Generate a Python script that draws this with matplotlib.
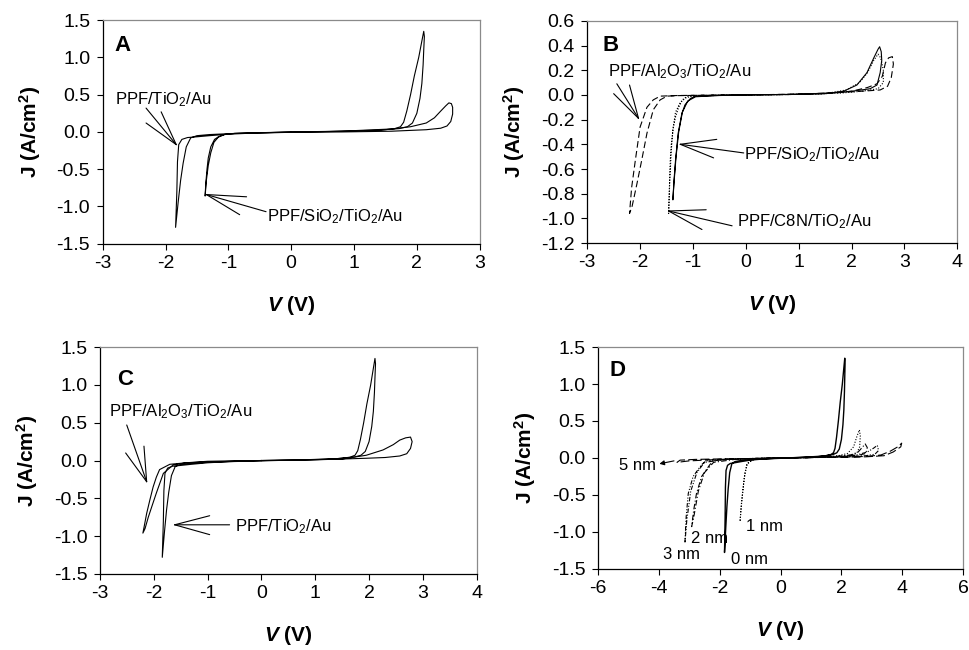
import matplotlib
matplotlib.use('Agg')
import matplotlib.pyplot as plt

plt.rcParams['font.family'] = ['Liberation Sans', 'DejaVu Sans']
plt.rcParams['mathtext.fontset'] = 'custom'
plt.rcParams['mathtext.rm'] = 'Liberation Sans'
plt.rcParams['mathtext.it'] = 'Liberation Sans:italic:bold'
plt.rcParams['mathtext.bf'] = 'Liberation Sans:bold'

# PPF/TiO2/Au (also the 0 nm trace in D)
tio2_v = [0, 0.6, 1.2, 1.5, 1.65, 1.74, 1.79, 1.84, 1.9, 1.96, 2.03, 2.08, 2.11, 2.12, 2.11,
          2.1, 2.08, 2.05, 2.0, 1.93, 1.85, 1.72, 1.4, 0.8, 0.0, -0.6, -1.0, -1.3, -1.5, -1.65,
          -1.74, -1.79, -1.81, -1.82, -1.84, -1.8, -1.76, -1.72, -1.67, -1.6, -1.5, -1.3, -0.9, -0.4, 0.0]
tio2_j = [0, 0.005, 0.015, 0.03, 0.045, 0.07, 0.13, 0.28, 0.5, 0.75, 1.0, 1.22, 1.35, 1.28, 1.1,
          0.9, 0.65, 0.45, 0.25, 0.12, 0.07, 0.045, 0.025, 0.01, -0.005, -0.015, -0.03, -0.05, -0.065, -0.075,
          -0.1, -0.17, -0.4, -0.8, -1.28, -0.95, -0.65, -0.42, -0.2, -0.08, -0.05, -0.035, -0.02, -0.01, 0.0]

# A: PPF/SiO2/TiO2/Au
sio2_a_v = [0, 0.8, 1.6, 1.9, 2.15, 2.28, 2.38, 2.46, 2.51, 2.55, 2.57, 2.57, 2.54, 2.48, 2.38,
            2.15, 1.6, 0.8, 0.0, -0.5, -0.9, -1.05, -1.15, -1.22, -1.28, -1.32, -1.34, -1.36, -1.37, -1.35,
            -1.32, -1.28, -1.23, -1.16, -1.06, -0.9, -0.5, 0.0]
sio2_a_j = [0, 0.01, 0.04, 0.07, 0.12, 0.19, 0.28, 0.35, 0.39, 0.38, 0.33, 0.24, 0.14, 0.08, 0.05,
            0.03, 0.01, 0.0, -0.005, -0.01, -0.02, -0.03, -0.06, -0.1, -0.2, -0.35, -0.5, -0.7, -0.86, -0.65,
            -0.45, -0.28, -0.14, -0.07, -0.035, -0.02, -0.01, 0.0]

# B: three junctions
sio2_b_v = [0, 0.8, 1.5, 1.85, 2.1, 2.29, 2.42, 2.5, 2.53, 2.56, 2.57, 2.54, 2.48, 2.35, 2.1,
            1.8, 1.0, 0.0, -0.5, -0.95, -1.05, -1.15, -1.21, -1.28, -1.33, -1.36, -1.38, -1.36, -1.32, -1.27,
            -1.2, -1.1, -0.95, -0.5, 0.0]
sio2_b_j = [0, 0.003, 0.01, 0.03, 0.08, 0.18, 0.3, 0.37, 0.39, 0.35, 0.28, 0.18, 0.08, 0.05, 0.035,
            0.02, 0.005, 0.0, -0.003, -0.01, -0.03, -0.08, -0.15, -0.31, -0.53, -0.7, -0.85, -0.72, -0.5, -0.3,
            -0.14, -0.05, -0.015, -0.005, 0.0]

c8n_v = [0, 0.8, 1.5, 1.9, 2.15, 2.3, 2.42, 2.5, 2.55, 2.6, 2.6, 2.5, 2.2, 1.8, 1.0,
         0.0, -0.6, -1.0, -1.11, -1.2, -1.27, -1.33, -1.37, -1.41, -1.43, -1.46, -1.44, -1.41, -1.38, -1.33,
         -1.24, -1.12, -0.9, -0.4, 0.0]
c8n_j = [0, 0.003, 0.01, 0.04, 0.1, 0.18, 0.28, 0.33, 0.3, 0.2, 0.1, 0.05, 0.03, 0.015, 0.005,
         0.0, -0.003, -0.008, -0.01, -0.04, -0.1, -0.18, -0.26, -0.4, -0.53, -0.96, -0.7, -0.45, -0.28, -0.14,
         -0.06, -0.02, -0.008, -0.003, 0.0]

al2o3_b_v = [0, 0.8, 1.5, 2.0, 2.3, 2.48, 2.58, 2.64, 2.7, 2.77, 2.79, 2.75, 2.68, 2.54, 2.2,
             1.6, 0.8, 0.0, -0.8, -1.3, -1.49, -1.62, -1.75, -1.87, -1.97, -2.06, -2.15, -2.2, -2.16, -2.09,
             -2.0, -1.87, -1.75, -1.62, -1.3, -0.6, 0.0]
al2o3_b_j = [0, 0.003, 0.01, 0.03, 0.06, 0.09, 0.15, 0.26, 0.3, 0.31, 0.25, 0.14, 0.07, 0.04, 0.03,
             0.015, 0.005, 0.0, -0.003, -0.006, -0.01, -0.04, -0.12, -0.31, -0.53, -0.72, -0.9, -0.96, -0.75, -0.53,
             -0.26, -0.1, -0.04, -0.01, -0.005, -0.002, 0.0]

# C: PPF/Al2O3/TiO2/Au
al2o3_c_v = [0, 0.8, 1.5, 1.95, 2.26, 2.45, 2.57, 2.68, 2.77, 2.8, 2.77, 2.7, 2.57, 2.3, 1.95,
             1.5, 0.8, 0.0, -0.6, -1.0, -1.4, -1.64, -1.82, -1.95, -2.03, -2.1, -2.16, -2.2, -2.17, -2.13,
             -2.07, -2.01, -1.95, -1.89, -1.7, -1.4, -1.0, -0.5, 0.0]
al2o3_c_j = [0, 0.005, 0.02, 0.07, 0.14, 0.21, 0.27, 0.3, 0.31, 0.25, 0.16, 0.09, 0.06, 0.04, 0.03,
             0.02, 0.01, 0.0, -0.005, -0.01, -0.03, -0.06, -0.17, -0.43, -0.6, -0.75, -0.9, -0.96, -0.85, -0.7,
             -0.52, -0.35, -0.22, -0.12, -0.05, -0.03, -0.02, -0.01, 0.0]

# D: SiO2 thickness series
nm1_v = [0, 0.8, 1.5, 1.9, 2.2, 2.4, 2.5, 2.59, 2.62, 2.6, 2.5, 2.2, 1.6, 0.8, 0.0,
         -0.5, -0.8, -1.0, -1.11, -1.2, -1.28, -1.33, -1.3, -1.24, -1.17, -1.08, -0.9, -0.4, 0.0]
nm1_j = [0, 0.005, 0.015, 0.03, 0.06, 0.15, 0.28, 0.38, 0.3, 0.15, 0.06, 0.03, 0.015, 0.005, 0.0,
         -0.005, -0.01, -0.05, -0.09, -0.3, -0.6, -0.86, -0.7, -0.45, -0.2, -0.07, -0.02, -0.005, 0.0]

nm2_v = [0, 1.0, 1.8, 2.3, 2.55, 2.7, 2.78, 2.85, 2.8, 2.5, 1.8, 1.0, 0.0, -1.0, -1.8,
         -2.2, -2.32, -2.59, -2.76, -2.85, -2.92, -2.85, -2.7, -2.5, -2.2, -1.5, -0.5, 0.0]
nm2_j = [0, 0.005, 0.02, 0.04, 0.08, 0.15, 0.19, 0.14, 0.06, 0.03, 0.015, 0.005, 0.0, -0.01, -0.02,
         -0.04, -0.09, -0.25, -0.48, -0.7, -0.93, -0.8, -0.45, -0.2, -0.06, -0.02, -0.005, 0.0]

nm3_v = [0, 1.0, 2.0, 2.5, 2.85, 3.05, 3.18, 3.22, 3.1, 2.8, 2.0, 1.0, 0.0, -1.0, -2.0,
         -2.45, -2.59, -2.87, -3.03, -3.1, -3.14, -3.08, -2.95, -2.75, -2.5, -1.8, -0.8, 0.0]
nm3_j = [0, 0.005, 0.02, 0.04, 0.08, 0.13, 0.17, 0.1, 0.05, 0.03, 0.015, 0.005, 0.0, -0.01, -0.02,
         -0.04, -0.09, -0.25, -0.48, -0.8, -1.15, -0.85, -0.45, -0.2, -0.06, -0.02, -0.005, 0.0]

nm5_v = [0, 1.0, 2.0, 2.8, 3.3, 3.6, 3.85, 3.98, 3.95, 3.7, 3.4, 2.8, 2.0, 1.0, 0.0,
         -1.0, -2.0, -2.5, -3.0, -3.4, -3.3, -2.8, -2.2, -1.2, 0.0]
nm5_j = [0, 0.005, 0.01, 0.02, 0.04, 0.09, 0.15, 0.2, 0.15, 0.08, 0.03, 0.015, 0.01, 0.005, 0.0,
         -0.01, -0.02, -0.03, -0.04, -0.06, -0.03, -0.02, -0.015, -0.01, 0.0]

LW = 0.8
TXT = 12


def style_axes(ax, xlim, xticks, ylim, yticks, letter, lx, ly):
    ax.set_xlim(xlim)
    ax.set_ylim(ylim)
    ax.set_xticks(xticks)
    ax.set_yticks(yticks)
    ax.set_xticklabels([str(t) for t in xticks])
    ax.set_yticklabels(['%.1f' % t for t in yticks])
    ax.tick_params(direction='out', length=4, width=0.8, labelsize=14, pad=5)
    ax.tick_params(axis='x', pad=4)
    for s in ['left', 'bottom']:
        ax.spines[s].set_color('black')
        ax.spines[s].set_linewidth(0.9)
    for s in ['top', 'right']:
        ax.spines[s].set_color('#8a8a8a')
        ax.spines[s].set_linewidth(0.9)
    ax.set_xlabel(r'$V$ (V)', fontsize=15, fontweight='bold', labelpad=16)
    ax.set_ylabel(r'J (A/cm$^{\mathbf{2}}$)', fontsize=15, fontweight='bold', labelpad=10)
    ax.text(lx, ly, letter, transform=ax.transAxes, fontsize=16, fontweight='bold', va='top', ha='left')


def fan(ax, tip, starts):
    for s in starts:
        ax.annotate('', xy=tip, xytext=s,
                    arrowprops=dict(arrowstyle='-', lw=LW, color='black', shrinkA=0, shrinkB=0))


fig = plt.figure(figsize=(9.69, 6.5), dpi=100)
axA = fig.add_axes([0.106, 0.625, 0.389, 0.344])
axB = fig.add_axes([0.606, 0.626, 0.382, 0.342])
axC = fig.add_axes([0.103, 0.117, 0.389, 0.349])
axD = fig.add_axes([0.617, 0.125, 0.377, 0.341])

# A
axA.plot(sio2_a_v, sio2_a_j, color='black', lw=LW)
axA.plot(tio2_v, tio2_j, color='black', lw=LW)
style_axes(axA, (-3, 3), [-3, -2, -1, 0, 1, 2, 3], (-1.5, 1.5),
           [-1.5, -1.0, -0.5, 0.0, 0.5, 1.0, 1.5], 'A', 0.03, 0.935)
axA.text(-2.81, 0.43, 'PPF/TiO$_2$/Au', fontsize=TXT, va='center')
fan(axA, (-1.83, -0.17), [(-2.31, 0.32), (-2.07, 0.27), (-2.31, 0.12)])
axA.text(-0.38, -1.13, 'PPF/SiO$_2$/TiO$_2$/Au', fontsize=TXT, va='center')
fan(axA, (-1.35, -0.84), [(-0.71, -0.87), (-0.82, -1.11), (-0.40, -1.07)])

# B
axB.plot(al2o3_b_v, al2o3_b_j, color='black', lw=LW, linestyle=(0, (6, 3)))
axB.plot(c8n_v, c8n_j, color='black', lw=LW, linestyle=(0, (1, 1.5)))
axB.plot(sio2_b_v, sio2_b_j, color='black', lw=LW)
style_axes(axB, (-3, 4), [-3, -2, -1, 0, 1, 2, 3, 4], (-1.2, 0.6),
           [-1.2, -1.0, -0.8, -0.6, -0.4, -0.2, 0.0, 0.2, 0.4, 0.6], 'B', 0.04, 0.935)
axB.text(-2.6, 0.19, 'PPF/Al$_2$O$_3$/TiO$_2$/Au', fontsize=TXT, va='center')
fan(axB, (-2.03, -0.19), [(-2.5, 0.01), (-2.44, 0.09), (-2.2, 0.08)])
axB.text(-0.04, -0.48, 'PPF/SiO$_2$/TiO$_2$/Au', fontsize=TXT, va='center')
fan(axB, (-1.24, -0.40), [(-0.55, -0.36), (-0.61, -0.51), (-0.04, -0.47)])
axB.text(-0.17, -1.03, 'PPF/C8N/TiO$_2$/Au', fontsize=TXT, va='center')
fan(axB, (-1.46, -0.94), [(-0.75, -0.93), (-0.83, -1.09), (-0.26, -1.06)])

# C
axC.plot(al2o3_c_v, al2o3_c_j, color='black', lw=LW)
axC.plot(tio2_v, tio2_j, color='black', lw=LW)
style_axes(axC, (-3, 4), [-3, -2, -1, 0, 1, 2, 3, 4], (-1.5, 1.5),
           [-1.5, -1.0, -0.5, 0.0, 0.5, 1.0, 1.5], 'C', 0.045, 0.905)
axC.text(-2.83, 0.645, 'PPF/Al$_2$O$_3$/TiO$_2$/Au', fontsize=TXT, va='center')
fan(axC, (-2.13, -0.28), [(-2.5, 0.47), (-2.52, 0.10), (-2.18, 0.19)])
axC.text(-0.49, -0.87, 'PPF/TiO$_2$/Au', fontsize=TXT, va='center')
fan(axC, (-1.61, -0.85), [(-0.96, -0.73), (-0.96, -0.98), (-0.59, -0.85)])

# D
axD.plot(nm5_v, nm5_j, color='black', lw=LW, linestyle=(0, (8, 3)))
axD.plot(nm3_v, nm3_j, color='black', lw=LW, linestyle=(0, (4, 1.5, 1, 1.5, 1, 1.5)))
axD.plot(nm2_v, nm2_j, color='black', lw=LW, linestyle=(0, (5, 2, 1, 2)))
axD.plot(nm1_v, nm1_j, color='black', lw=LW, linestyle=(0, (1, 1.5)))
axD.plot(tio2_v, tio2_j, color='black', lw=1.0)
style_axes(axD, (-6, 6), [-6, -4, -2, 0, 2, 4, 6], (-1.5, 1.5),
           [-1.5, -1.0, -0.5, 0.0, 0.5, 1.0, 1.5], 'D', 0.033, 0.94)
axD.text(-5.3, -0.1, '5 nm', fontsize=TXT, va='center')
axD.annotate('', xy=(-3.98, -0.08), xytext=(-3.5, -0.04),
             arrowprops=dict(arrowstyle='-|>', lw=LW, color='black', mutation_scale=7,
                             shrinkA=0, shrinkB=0))
axD.text(-1.13, -0.93, '1 nm', fontsize=TXT, va='center')
axD.text(-2.95, -1.09, '2 nm', fontsize=TXT, va='center')
axD.text(-3.87, -1.31, '3 nm', fontsize=TXT, va='center')
axD.text(-1.64, -1.37, '0 nm', fontsize=TXT, va='center')

fig.savefig('out.png', dpi=100)
